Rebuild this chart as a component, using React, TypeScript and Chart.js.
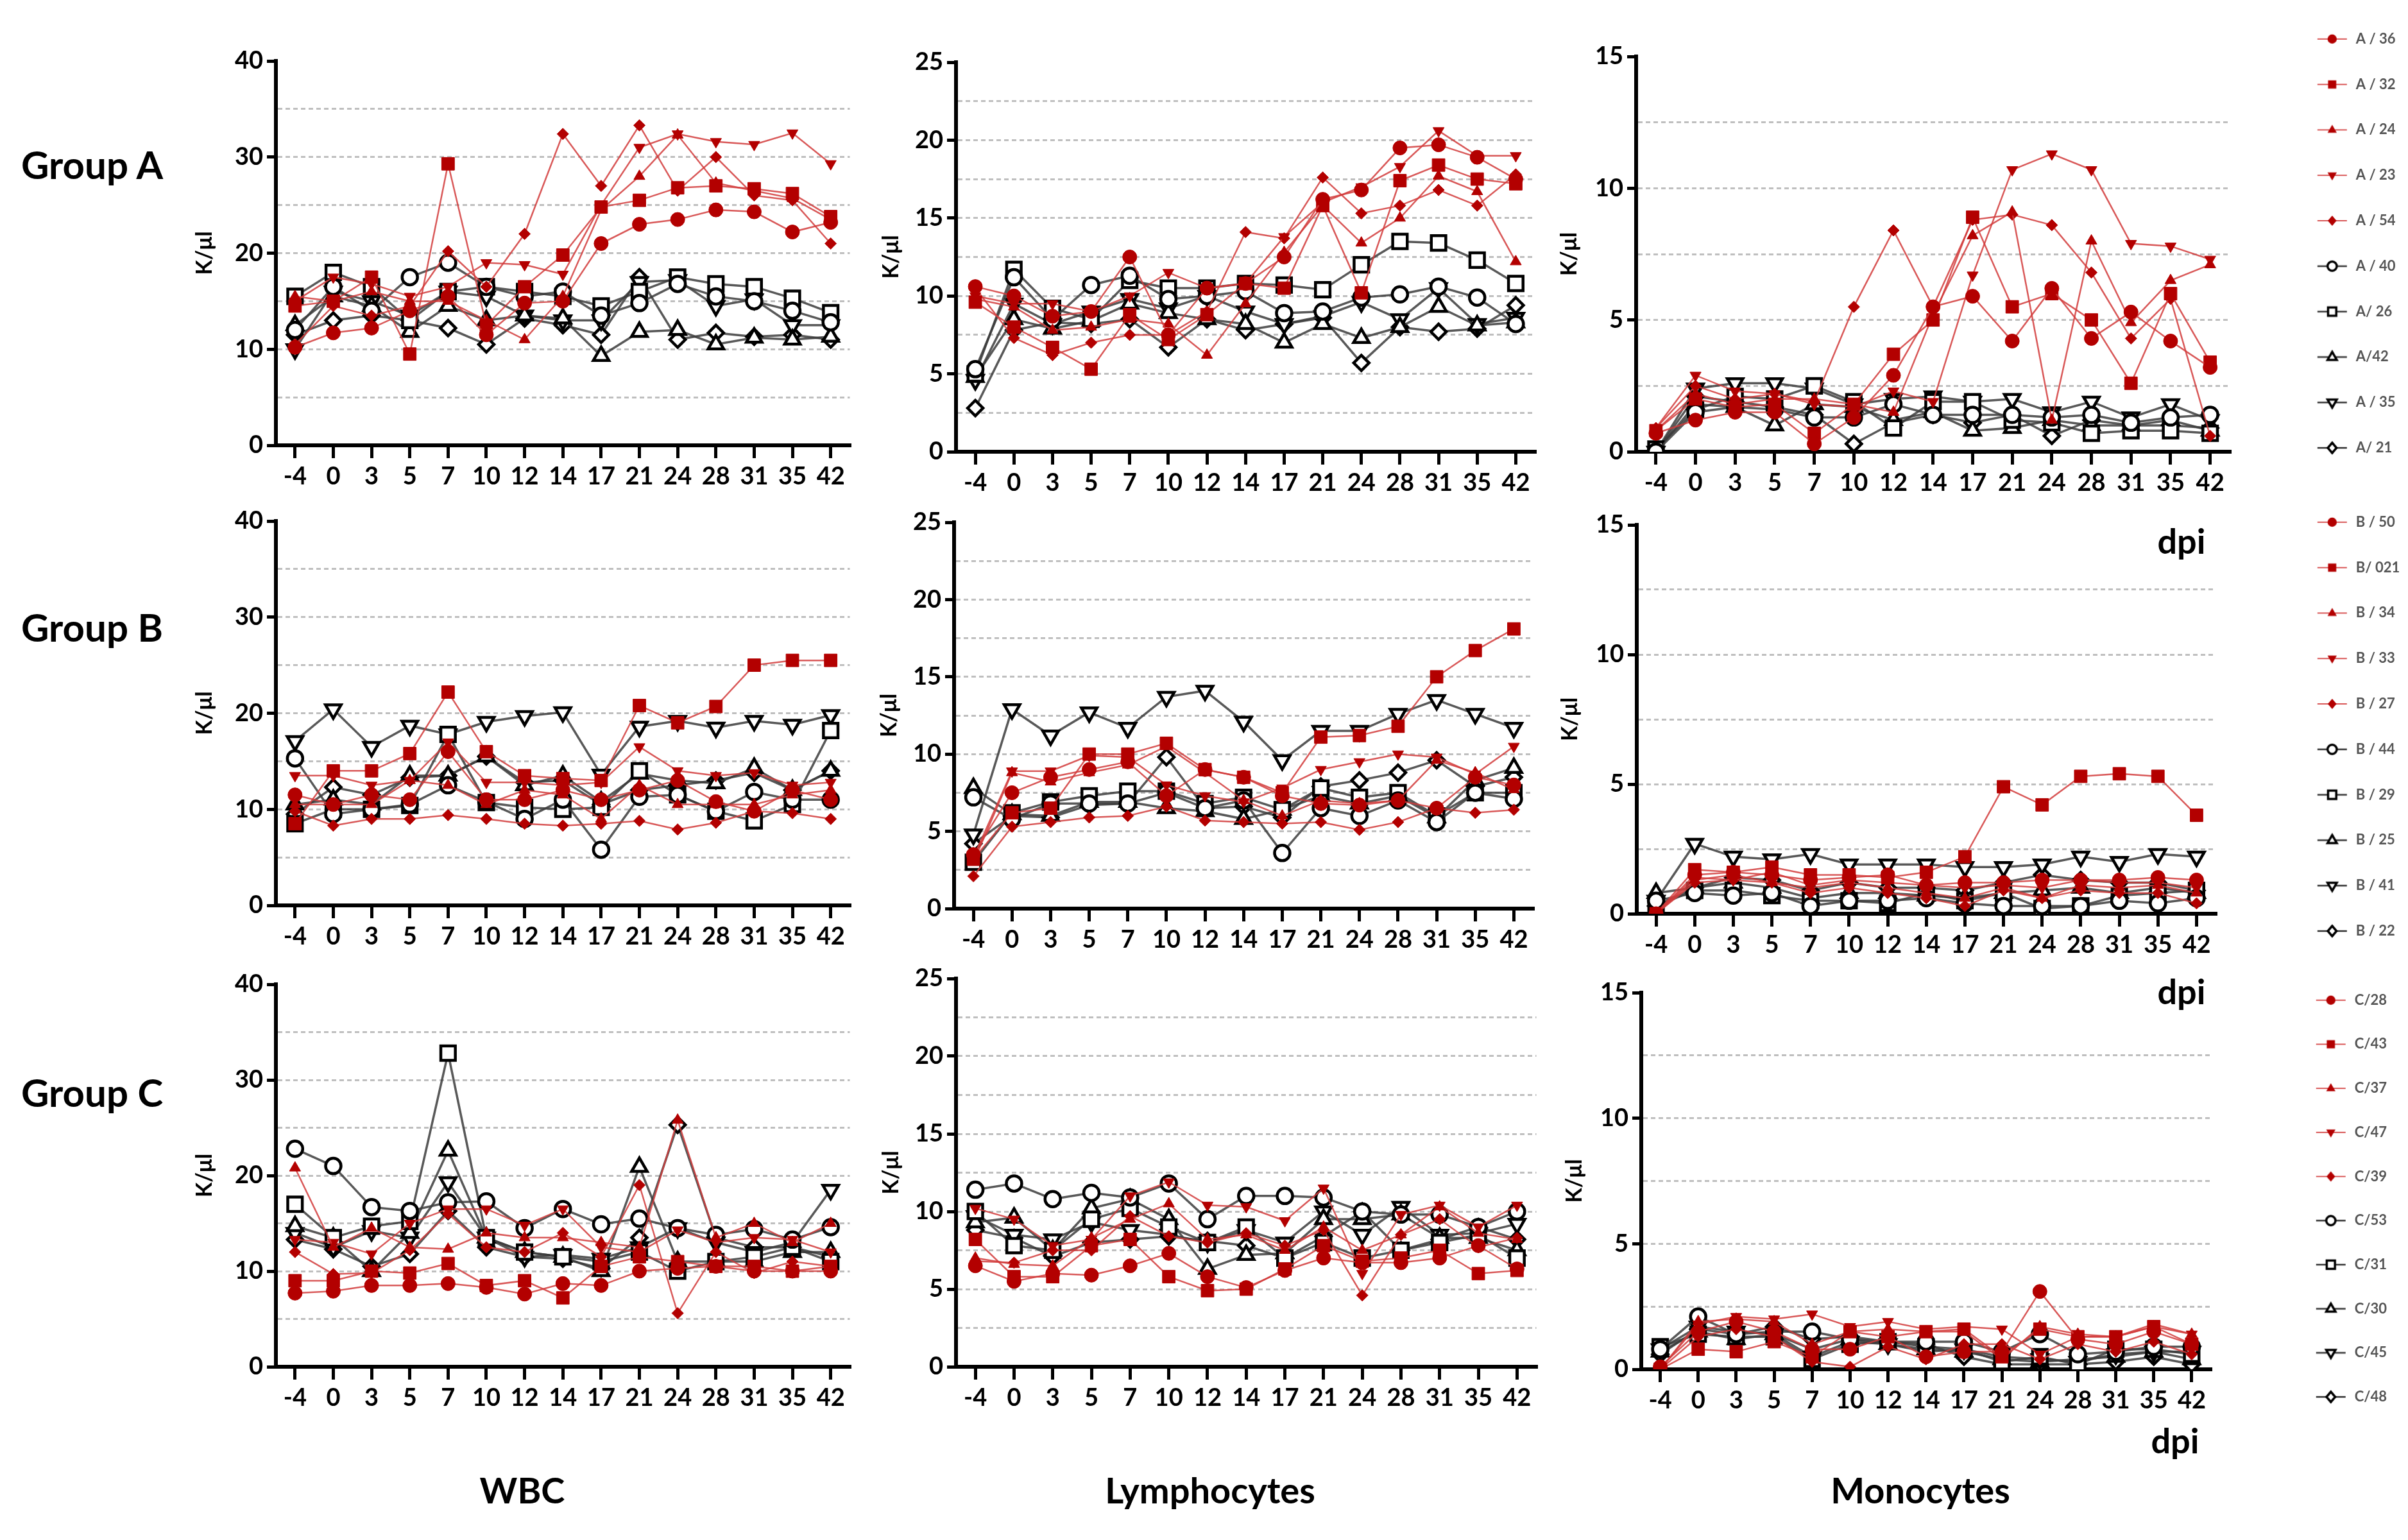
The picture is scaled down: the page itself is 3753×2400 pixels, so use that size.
import React, { useEffect, useRef } from "react";
import { Chart, registerables } from "chart.js";

Chart.register(...registerables);

// ---------------- DATA ----------------
const DPI = ["-4", "0", "3", "5", "7", "10", "12", "14", "17", "21", "24", "28", "31", "35", "42"];

const LABELS_A = ["A / 36", "A / 32", "A / 24", "A / 23", "A / 54", "A / 40", "A/ 26", "A/42", "A / 35", "A/ 21"];
const LABELS_B = ["B / 50", "B/ 021", "B / 34", "B / 33", "B / 27", "B / 44", "B / 29", "B / 25", "B / 41", "B / 22"];
const LABELS_C = ["C/28", "C/43", "C/37", "C/47", "C/39", "C/53", "C/31", "C/30", "C/45", "C/48"];

const WBC_A = [
  [10.2, 11.7, 12.2, 14.0, 15.5, 11.5, 14.8, 15.0, 21.0, 23.0, 23.5, 24.5, 24.3, 22.2, 23.2],
  [14.5, 15.0, 17.5, 9.5, 29.3, 12.5, 16.5, 19.8, 24.8, 25.5, 26.8, 27.0, 26.7, 26.2, 23.8],
  [15.5, 15.0, 16.0, 15.0, 15.0, 13.0, 11.0, 15.5, 24.5, 28.0, 32.3, 27.3, 26.5, 25.7, 23.5],
  [15.0, 17.5, 16.8, 15.5, 16.5, 19.0, 18.8, 17.8, 25.0, 31.0, 32.4, 31.6, 31.3, 32.5, 29.3],
  [10.5, 14.5, 13.5, 14.5, 20.2, 16.5, 22.0, 32.4, 27.0, 33.3, 26.5, 30.0, 26.0, 25.5, 21.0],
  [12.0, 16.5, 14.0, 17.5, 19.0, 16.5, 15.5, 16.0, 13.5, 14.8, 16.8, 15.5, 15.0, 14.0, 12.8],
  [15.5, 18.0, 16.5, 13.0, 16.0, 16.5, 16.0, 15.5, 14.5, 16.0, 17.5, 16.8, 16.5, 15.3, 13.8],
  [12.5, 15.5, 14.5, 11.8, 14.5, 13.0, 13.5, 13.2, 9.3, 11.8, 12.0, 10.5, 11.2, 11.0, 11.3],
  [10.0, 16.0, 15.0, 13.5, 16.0, 15.5, 13.5, 13.0, 13.0, 17.0, 17.2, 14.5, 15.2, 12.5, 12.5],
  [11.5, 13.0, 13.5, 13.0, 12.2, 10.5, 13.2, 12.5, 11.5, 17.5, 11.0, 11.7, 11.3, 11.5, 11.0],
];
const LYM_A = [
  [10.6, 10.0, 8.7, 9.0, 12.5, 7.5, 10.5, 10.8, 12.5, 16.2, 16.8, 19.5, 19.7, 18.9, 17.5],
  [9.6, 8.0, 6.7, 5.3, 8.8, 7.2, 8.8, 10.8, 10.5, 15.8, 10.2, 17.4, 18.4, 17.5, 17.2],
  [9.8, 9.3, 7.8, 8.0, 8.5, 8.2, 6.2, 9.5, 12.8, 15.8, 13.4, 15.0, 17.7, 16.7, 12.2],
  [10.0, 9.5, 9.5, 9.0, 10.0, 11.5, 10.5, 10.8, 13.8, 16.0, 17.0, 18.3, 20.6, 19.0, 19.0],
  [10.5, 7.3, 6.2, 7.0, 7.5, 7.5, 9.0, 14.1, 13.7, 17.6, 15.3, 15.8, 16.8, 15.8, 17.8],
  [5.3, 11.2, 8.5, 10.7, 11.3, 9.8, 10.0, 10.3, 8.9, 9.0, 9.9, 10.1, 10.6, 9.9, 8.2],
  [5.0, 11.7, 9.2, 8.5, 11.0, 10.5, 10.5, 10.8, 10.7, 10.4, 12.0, 13.5, 13.4, 12.3, 10.8],
  [4.8, 8.5, 7.9, 8.4, 9.5, 8.9, 8.5, 8.2, 7.0, 8.2, 7.3, 8.0, 9.3, 8.1, 8.3],
  [4.6, 9.5, 8.2, 9.0, 9.8, 9.2, 10.0, 9.0, 8.2, 8.7, 9.6, 8.5, 10.5, 8.2, 8.6],
  [2.8, 7.8, 8.3, 8.2, 8.5, 6.7, 8.5, 7.8, 8.2, 8.6, 5.7, 8.0, 7.7, 7.9, 9.4],
];
const MONO_A = [
  [0.7, 1.2, 1.5, 1.5, 0.3, 1.3, 2.9, 5.5, 5.9, 4.2, 6.2, 4.3, 5.3, 4.2, 3.2],
  [0.8, 2.0, 1.7, 1.8, 0.7, 1.8, 3.7, 5.0, 8.9, 5.5, 6.0, 5.0, 2.6, 6.0, 3.4],
  [0.8, 2.2, 1.8, 2.0, 2.0, 1.8, 1.5, 5.2, 8.2, 9.1, 1.2, 8.0, 4.9, 6.5, 7.1],
  [0.9, 2.9, 2.3, 2.2, 1.8, 1.7, 2.3, 1.9, 6.7, 10.7, 11.3, 10.7, 7.9, 7.8, 7.3],
  [0.9, 2.5, 2.0, 2.2, 1.9, 5.5, 8.4, 5.5, 8.8, 9.0, 8.6, 6.8, 4.3, 5.8, 0.6],
  [0.0, 1.5, 1.7, 1.6, 1.3, 1.3, 1.8, 1.4, 1.4, 1.4, 1.3, 1.4, 1.1, 1.3, 1.4],
  [0.1, 1.6, 2.1, 2.0, 2.5, 1.9, 0.9, 1.9, 1.9, 1.2, 1.1, 0.7, 0.8, 0.8, 0.7],
  [0.0, 1.8, 1.7, 1.0, 1.8, 1.7, 1.2, 1.5, 0.8, 0.9, 1.2, 1.0, 1.0, 1.2, 0.8],
  [0.0, 2.4, 2.6, 2.6, 2.4, 1.8, 2.0, 2.1, 1.9, 2.0, 1.5, 1.9, 1.3, 1.8, 1.2],
  [0.0, 2.1, 1.9, 1.7, 1.4, 0.3, 1.1, 1.4, 1.1, 1.4, 0.6, 1.2, 1.0, 1.0, 0.9],
];

const WBC_B = [
  [11.5, 10.5, 11.5, 11.0, 16.0, 11.0, 11.0, 12.0, 11.0, 12.0, 13.0, 10.8, 9.8, 12.0, 11.0],
  [8.5, 14.0, 14.0, 15.8, 22.2, 16.0, 13.5, 13.2, 13.0, 20.8, 19.0, 20.7, 25.0, 25.5, 25.5],
  [10.5, 10.5, 10.5, 13.0, 12.5, 10.5, 12.0, 11.5, 9.0, 12.5, 10.5, 10.5, 10.5, 11.5, 12.0],
  [13.5, 13.5, 12.5, 13.0, 17.0, 12.8, 12.8, 12.5, 12.8, 16.5, 14.0, 13.5, 13.8, 12.5, 12.8],
  [9.8, 8.3, 9.0, 9.0, 9.4, 9.0, 8.5, 8.3, 8.5, 8.8, 7.9, 8.6, 9.8, 9.6, 9.0],
  [15.3, 9.5, 10.0, 10.5, 12.5, 10.8, 9.0, 11.0, 5.8, 11.3, 11.5, 9.8, 11.8, 11.0, 11.0],
  [8.5, 10.0, 10.0, 10.4, 17.8, 10.7, 10.2, 10.0, 10.2, 14.0, 11.5, 9.8, 8.8, 10.5, 18.2],
  [10.5, 11.0, 10.5, 13.5, 13.5, 15.5, 12.5, 13.5, 10.8, 13.7, 13.0, 12.7, 14.3, 12.0, 14.0],
  [17.1, 20.4, 16.5, 18.7, 17.8, 19.1, 19.7, 20.1, 13.6, 18.6, 19.2, 18.5, 19.2, 18.8, 19.8],
  [9.5, 12.3, 11.5, 13.3, 13.5, 15.5, 12.8, 13.0, 10.5, 12.0, 12.5, 13.0, 13.8, 12.0, 14.0],
];
const LYM_B = [
  [3.5, 7.5, 8.5, 9.0, 9.5, 7.3, 9.0, 8.5, 7.3, 6.8, 6.7, 7.0, 6.5, 8.5, 8.0],
  [3.2, 6.2, 6.5, 10.0, 10.0, 10.7, 9.0, 8.5, 7.5, 11.1, 11.2, 11.8, 15.0, 16.7, 18.1],
  [3.0, 8.8, 8.2, 8.8, 9.3, 10.5, 8.8, 7.0, 6.0, 7.0, 6.8, 7.0, 9.6, 8.8, 7.7],
  [3.3, 8.9, 8.9, 9.9, 9.8, 8.0, 7.3, 6.9, 7.8, 9.0, 9.5, 10.0, 9.8, 8.7, 10.5],
  [2.1, 5.3, 5.6, 5.9, 6.0, 6.6, 5.7, 5.6, 5.5, 5.6, 5.1, 5.6, 6.5, 6.2, 6.4],
  [7.2, 5.8, 6.8, 6.8, 6.8, 7.5, 6.5, 7.0, 3.6, 6.5, 6.0, 7.0, 5.6, 7.5, 7.1],
  [3.0, 6.2, 6.9, 7.3, 7.6, 7.6, 6.8, 7.2, 6.4, 7.8, 7.2, 7.5, 6.0, 7.5, 7.5],
  [7.8, 6.1, 6.0, 6.9, 6.9, 6.5, 6.3, 5.8, 6.4, 7.3, 6.8, 7.3, 5.9, 8.3, 9.1],
  [4.8, 12.9, 11.2, 12.7, 11.7, 13.7, 14.1, 12.1, 9.6, 11.5, 11.5, 12.6, 13.5, 12.6, 11.7],
  [4.2, 6.0, 5.9, 6.7, 6.8, 9.8, 6.5, 6.6, 5.9, 7.9, 8.3, 8.8, 9.6, 7.9, 8.5],
];
const MONO_B = [
  [0.0, 1.5, 1.6, 1.5, 1.3, 1.4, 1.5, 1.1, 1.2, 1.2, 1.3, 1.3, 1.3, 1.4, 1.3],
  [0.0, 1.7, 1.6, 1.8, 1.5, 1.5, 1.4, 1.6, 2.2, 4.9, 4.2, 5.3, 5.4, 5.3, 3.8],
  [0.0, 1.3, 1.5, 1.2, 1.0, 1.2, 1.0, 0.8, 0.6, 1.0, 0.6, 1.1, 1.0, 1.1, 0.8],
  [0.0, 1.4, 1.3, 1.6, 1.1, 1.3, 1.2, 1.1, 1.0, 1.1, 1.0, 1.3, 1.2, 1.2, 1.0],
  [0.0, 1.2, 1.3, 1.2, 0.8, 1.0, 0.8, 0.6, 0.3, 0.9, 0.6, 0.9, 0.8, 0.8, 0.4],
  [0.5, 0.8, 0.7, 0.8, 0.3, 0.5, 0.5, 0.6, 0.4, 0.3, 0.3, 0.3, 0.5, 0.4, 0.6],
  [0.3, 0.9, 0.9, 0.7, 0.5, 0.5, 0.4, 0.8, 0.5, 0.8, 0.2, 0.3, 0.7, 0.8, 0.9],
  [0.8, 1.0, 1.2, 1.0, 0.6, 0.8, 0.8, 0.7, 0.6, 0.8, 0.9, 1.0, 0.8, 1.0, 0.8],
  [0.5, 2.7, 2.2, 2.1, 2.3, 1.9, 1.9, 1.9, 1.8, 1.8, 1.9, 2.2, 2.0, 2.3, 2.2],
  [0.3, 1.0, 1.4, 1.3, 0.9, 1.2, 1.0, 1.0, 0.9, 1.2, 1.5, 1.3, 1.2, 1.2, 0.9],
];

const WBC_C = [
  [7.7, 7.9, 8.5, 8.5, 8.7, 8.3, 7.6, 8.7, 8.5, 10.0, 10.3, 10.5, 10.0, 10.0, 10.0],
  [9.0, 9.0, 10.0, 9.8, 10.8, 8.5, 9.0, 7.2, 10.5, 11.5, 11.0, 10.5, 10.5, 10.0, 10.5],
  [20.8, 12.5, 14.5, 12.5, 12.3, 14.0, 13.5, 13.5, 13.0, 12.5, 25.8, 13.5, 15.0, 13.0, 15.0],
  [13.3, 13.0, 11.8, 15.0, 16.5, 16.5, 14.8, 16.5, 12.5, 12.0, 14.3, 13.0, 13.5, 13.3, 12.0],
  [12.0, 9.7, 9.8, 12.2, 16.0, 12.5, 12.0, 14.0, 11.5, 19.0, 5.6, 12.0, 9.8, 11.0, 10.5],
  [22.8, 21.0, 16.7, 16.3, 17.2, 17.3, 14.5, 16.5, 14.9, 15.5, 14.5, 13.8, 14.4, 13.3, 14.6],
  [17.0, 13.5, 14.7, 15.2, 32.8, 13.5, 12.0, 11.5, 11.0, 12.0, 10.0, 11.0, 11.5, 12.5, 11.0],
  [14.7, 13.5, 10.0, 14.0, 22.6, 13.5, 12.0, 11.5, 10.0, 20.9, 11.0, 11.0, 11.0, 12.0, 12.0],
  [14.0, 12.5, 14.2, 13.5, 19.3, 13.5, 11.5, 11.7, 11.3, 12.5, 14.5, 13.0, 12.0, 13.0, 18.5],
  [13.3, 12.3, 10.5, 11.8, 16.3, 12.5, 11.5, 11.3, 10.3, 13.5, 25.3, 13.5, 12.5, 12.5, 11.5],
];
const LYM_C = [
  [6.5, 5.5, 6.0, 5.9, 6.5, 7.3, 5.8, 5.1, 6.2, 7.0, 6.7, 6.7, 7.0, 7.8, 6.3],
  [8.2, 5.8, 5.8, 7.8, 8.2, 5.8, 4.9, 5.0, 6.3, 7.8, 6.8, 7.0, 7.5, 6.0, 6.2],
  [7.0, 6.6, 6.5, 8.3, 9.5, 10.5, 8.2, 8.5, 7.5, 9.0, 7.5, 8.5, 10.3, 8.6, 8.2],
  [10.2, 9.5, 7.8, 8.2, 11.0, 11.9, 10.4, 10.3, 9.4, 11.5, 6.0, 9.8, 10.4, 9.0, 10.4],
  [6.8, 6.7, 7.5, 7.5, 9.7, 8.4, 8.0, 8.6, 7.8, 8.8, 4.6, 8.5, 9.5, 7.7, 8.3],
  [11.4, 11.8, 10.8, 11.2, 10.9, 11.8, 9.5, 11.0, 11.0, 10.9, 10.0, 9.8, 9.8, 9.0, 10.0],
  [10.0, 7.8, 7.5, 9.5, 10.2, 9.0, 8.0, 9.0, 7.0, 8.0, 7.0, 7.5, 8.0, 8.5, 7.0],
  [9.3, 9.6, 7.5, 10.2, 10.8, 9.5, 6.3, 7.2, 7.3, 9.5, 9.5, 9.8, 8.3, 8.3, 7.5],
  [9.7, 8.5, 8.2, 9.3, 8.8, 8.5, 8.0, 8.8, 8.0, 10.0, 8.5, 10.3, 8.5, 8.6, 9.2],
  [8.8, 8.3, 7.1, 8.0, 8.2, 8.4, 8.1, 7.8, 7.0, 8.4, 10.0, 7.5, 8.2, 9.0, 8.2],
];
const MONO_C = [
  [0.1, 1.5, 1.9, 1.5, 0.8, 0.8, 1.3, 0.5, 0.7, 0.7, 3.1, 1.2, 1.0, 1.5, 1.0],
  [0.0, 0.8, 0.7, 1.1, 0.5, 1.5, 1.3, 1.5, 1.6, 0.5, 1.6, 1.3, 1.3, 1.7, 1.0],
  [0.0, 1.9, 2.0, 1.9, 1.0, 1.5, 1.6, 1.5, 1.5, 0.4, 1.7, 1.4, 1.3, 1.7, 1.4],
  [0.0, 1.8, 2.1, 2.0, 2.2, 1.7, 1.9, 1.6, 1.7, 1.6, 0.6, 1.3, 1.3, 1.8, 1.4],
  [0.0, 1.3, 1.6, 1.3, 0.3, 0.1, 0.9, 0.4, 1.0, 1.0, 0.4, 1.0, 0.7, 1.1, 0.6],
  [0.8, 2.1, 1.4, 1.5, 1.5, 1.2, 1.1, 1.1, 1.1, 0.7, 1.4, 0.6, 0.7, 0.9, 0.9],
  [0.9, 1.4, 1.3, 1.3, 0.4, 1.0, 1.1, 0.9, 0.8, 0.3, 0.5, 0.2, 0.8, 0.8, 0.6],
  [0.7, 1.5, 1.2, 1.4, 0.8, 1.2, 1.0, 0.8, 0.7, 0.4, 0.3, 0.4, 0.5, 0.7, 0.4],
  [0.8, 1.7, 1.5, 1.4, 0.5, 1.1, 1.0, 0.7, 0.8, 0.5, 0.4, 0.3, 0.6, 0.7, 0.7],
  [0.6, 1.6, 1.4, 1.7, 1.2, 1.3, 1.1, 1.0, 0.5, 0.2, 0.2, 0.2, 0.3, 0.5, 0.2],
];

const GROUP_TITLES = ["Group A", "Group B", "Group C"];
const COLUMN_TITLES = ["WBC", "Lymphocytes", "Monocytes"];
const Y_TITLE = "K/μl";
const X_TITLE = "dpi";

// ---------------- LAYOUT / STYLE ----------------
const FONT = 'Lato, "Open Sans", "DejaVu Sans", sans-serif';
const Y_W = 160;
const PAD_T = 36;
const PAD_R = 20;
const X_H = 82;

const AXES: any = {
  wbc: { max: 40, step: 5, labelStep: 10, titleDist: 111 },
  lym: { max: 25, step: 2.5, labelStep: 5, titleDist: 101 },
  mono: { max: 15, step: 2.5, labelStep: 5, titleDist: 104 },
};

const PANELS: any[] = [
  { kind: "wbc", data: WBC_A, labels: LABELS_A, box: { L: 430, R: 1325, T: 95, B: 694 } },
  { kind: "lym", data: LYM_A, labels: LABELS_A, box: { L: 1490, R: 2393, T: 97, B: 704 } },
  { kind: "mono", data: MONO_A, labels: LABELS_A, box: { L: 2550, R: 3476, T: 88, B: 704 } },
  { kind: "wbc", data: WBC_B, labels: LABELS_B, box: { L: 430, R: 1325, T: 812, B: 1411 } },
  { kind: "lym", data: LYM_B, labels: LABELS_B, box: { L: 1487, R: 2390, T: 814, B: 1416 } },
  { kind: "mono", data: MONO_B, labels: LABELS_B, box: { L: 2551, R: 3454, T: 818, B: 1424 } },
  { kind: "wbc", data: WBC_C, labels: LABELS_C, box: { L: 430, R: 1325, T: 1534, B: 2130 } },
  { kind: "lym", data: LYM_C, labels: LABELS_C, box: { L: 1490, R: 2395, T: 1525, B: 2130 } },
  { kind: "mono", data: MONO_C, labels: LABELS_C, box: { L: 2558, R: 3446, T: 1547, B: 2134 } },
];

const LEGENDS = [
  { labels: LABELS_A, top: 1, pad: 48.8 },
  { labels: LABELS_B, top: 754, pad: 48.8 },
  { labels: LABELS_C, top: 1501, pad: 46.7 },
];
const LEGEND_LEFT = 3560;

const MARKERS = [
  { style: "circle", rot: 0, rRed: 11, rBlack: 12 },
  { style: "rect", rot: 0, rRed: 14, rBlack: 16 },
  { style: "triangle", rot: 0, rRed: 10, rBlack: 14 },
  { style: "triangle", rot: 180, rRed: 10, rBlack: 14 },
  { style: "rectRot", rot: 0, rRed: 9, rBlack: 12 },
];

const RED_LINE = "rgba(210,60,60,0.85)";
const RED_PT = "#b30000";
const BLACK_LINE = "rgba(60,60,60,0.85)";

function makeDataset(i: number, label: string, data: number[]) {
  const red = i < 5;
  const m = MARKERS[i % 5];
  return {
    label,
    data,
    borderColor: red ? RED_LINE : BLACK_LINE,
    borderWidth: red ? 2.5 : 3.5,
    pointStyle: m.style,
    pointRotation: m.rot,
    pointRadius: red ? m.rRed : m.rBlack,
    pointBackgroundColor: red ? RED_PT : "#ffffff",
    pointBorderColor: red ? RED_PT : "#000000",
    pointBorderWidth: red ? 1 : 4.5,
    tension: 0,
    fill: false,
  };
}

function Panel({ p }: { p: any }) {
  const ref = useRef<HTMLCanvasElement>(null);
  const ax = AXES[p.kind];
  const { L, R, T, B } = p.box;
  useEffect(() => {
    const chart = new Chart(ref.current as HTMLCanvasElement, {
      type: "line",
      data: {
        labels: DPI,
        datasets: p.data.map((d: number[], i: number) => makeDataset(i, p.labels[i], d)) as any,
      },
      options: {
        animation: false,
        responsive: true,
        maintainAspectRatio: false,
        layout: { padding: { top: PAD_T, right: PAD_R, left: 0, bottom: 0 } },
        plugins: { legend: { display: false }, tooltip: { enabled: false } },
        scales: {
          x: {
            type: "category",
            offset: true,
            grid: {
              display: true,
              drawOnChartArea: false,
              drawTicks: true,
              tickLength: 20,
              tickWidth: 5,
              tickColor: "#000",
              color: "#000",
              lineWidth: 5,
            },
            border: { display: true, color: "#000", width: 6 },
            ticks: {
              color: "#000",
              autoSkip: false,
              maxRotation: 0,
              padding: 6,
              font: { family: FONT, size: 38, weight: "bold" },
            },
            afterFit: (s: any) => {
              s.height = X_H;
            },
          },
          y: {
            min: 0,
            max: ax.max,
            ticks: {
              stepSize: ax.step,
              color: "#000",
              padding: 6,
              font: { family: FONT, size: 38, weight: "bold" },
              callback: (v: any) => (Number(v) % ax.labelStep === 0 ? String(v) : ""),
            },
            grid: {
              lineWidth: 3,
              color: (c: any) => {
                const v = c.tick ? c.tick.value : null;
                return v === 0 || v === ax.max ? "rgba(0,0,0,0)" : "rgba(170,170,170,0.75)";
              },
              drawTicks: true,
              tickLength: 14,
              tickWidth: 5,
              tickColor: (c: any) =>
                c.tick && c.tick.value % ax.labelStep === 0 ? "#000" : "rgba(0,0,0,0)",
            },
            border: { display: true, color: "#000", width: 6, dash: [7, 5] },
            title: {
              display: true,
              text: Y_TITLE,
              color: "#000",
              font: { family: FONT, size: 34, weight: "bold" },
              padding: { top: Y_W - ax.titleDist - 20.4, bottom: 0 },
            },
            afterFit: (s: any) => {
              s.width = Y_W;
            },
          },
        },
      } as any,
    });
    return () => chart.destroy();
  }, []);
  return (
    <div
      style={{
        position: "absolute",
        left: L - Y_W,
        top: T - PAD_T,
        width: Y_W + (R - L) + PAD_R,
        height: PAD_T + (B - T) + X_H,
      }}
    >
      <canvas ref={ref} />
    </div>
  );
}

function makeIcon(i: number): HTMLCanvasElement {
  const c = document.createElement("canvas");
  c.width = 52;
  c.height = 26;
  const g = c.getContext("2d") as CanvasRenderingContext2D;
  const red = i < 5;
  g.strokeStyle = red ? RED_LINE : "#333";
  g.lineWidth = red ? 2 : 2.5;
  g.beginPath();
  g.moveTo(3, 13);
  g.lineTo(49, 13);
  g.stroke();
  const m = MARKERS[i % 5];
  const x = 26;
  const y = 13;
  const r = 8;
  g.beginPath();
  if (m.style === "circle") {
    g.arc(x, y, r * 0.9, 0, Math.PI * 2);
  } else if (m.style === "rect") {
    const s = r * 0.8;
    g.rect(x - s, y - s, 2 * s, 2 * s);
  } else if (m.style === "triangle" && m.rot === 0) {
    g.moveTo(x, y - r);
    g.lineTo(x + r * 0.9, y + r * 0.55);
    g.lineTo(x - r * 0.9, y + r * 0.55);
    g.closePath();
  } else if (m.style === "triangle") {
    g.moveTo(x, y + r);
    g.lineTo(x + r * 0.9, y - r * 0.55);
    g.lineTo(x - r * 0.9, y - r * 0.55);
    g.closePath();
  } else {
    g.moveTo(x, y - r);
    g.lineTo(x + r * 0.85, y);
    g.lineTo(x, y + r);
    g.lineTo(x - r * 0.85, y);
    g.closePath();
  }
  if (red) {
    g.fillStyle = RED_PT;
    g.fill();
  } else {
    g.fillStyle = "#fff";
    g.fill();
    g.lineWidth = 3.5;
    g.strokeStyle = "#000";
    g.stroke();
  }
  return c;
}

function LegendBox({ lg }: { lg: any }) {
  const ref = useRef<HTMLCanvasElement>(null);
  useEffect(() => {
    const icons = lg.labels.map((_: string, i: number) => makeIcon(i));
    const chart = new Chart(ref.current as HTMLCanvasElement, {
      type: "line",
      data: { labels: [], datasets: [] },
      options: {
        animation: false,
        responsive: true,
        maintainAspectRatio: false,
        layout: { padding: 0 },
        scales: { x: { display: false }, y: { display: false } },
        plugins: {
          tooltip: { enabled: false },
          legend: {
            display: true,
            position: "left",
            align: "start",
            labels: {
              usePointStyle: true,
              pointStyleWidth: 52,
              boxHeight: 22,
              padding: lg.pad,
              color: "#555",
              font: { family: FONT, size: 22, weight: "bold" },
              generateLabels: () =>
                lg.labels.map((t: string, i: number) => ({
                  text: t,
                  pointStyle: icons[i],
                  fillStyle: "#000",
                  strokeStyle: "#000",
                  lineWidth: 0,
                  hidden: false,
                  datasetIndex: i,
                  fontColor: "#555",
                })),
            },
          },
        },
      } as any,
    });
    return () => chart.destroy();
  }, []);
  return (
    <div style={{ position: "absolute", left: LEGEND_LEFT, top: lg.top, width: 600, height: 820 }}>
      <canvas ref={ref} />
    </div>
  );
}

const textStyle = (x: number, y: number, size: number, center: boolean): React.CSSProperties => ({
  position: "absolute",
  left: x,
  top: y,
  transform: center ? "translate(-50%, -50%)" : "translate(0, -50%)",
  fontFamily: FONT,
  fontWeight: 700,
  fontSize: size,
  color: "#000",
  lineHeight: 1,
  whiteSpace: "nowrap",
});

export default function App() {
  const groupY = [256, 977, 1702];
  const colX = [814, 1886, 2993];
  const dpiPos = [
    [3400, 843],
    [3400, 1545],
    [3390, 2245],
  ];
  return (
    <div
      style={{
        position: "fixed",
        left: 0,
        top: 0,
        width: 3753,
        height: 2400,
        background: "#fff",
        overflow: "hidden",
      }}
    >
      {PANELS.map((p, i) => (
        <Panel key={i} p={p} />
      ))}
      {LEGENDS.map((lg, i) => (
        <LegendBox key={"l" + i} lg={lg} />
      ))}
      {GROUP_TITLES.map((t, i) => (
        <div key={"g" + i} style={textStyle(33, groupY[i], 60, false)}>
          {t}
        </div>
      ))}
      {COLUMN_TITLES.map((t, i) => (
        <div key={"c" + i} style={textStyle(colX[i], 2322, 56, true)}>
          {t}
        </div>
      ))}
      {dpiPos.map((d, i) => (
        <div key={"d" + i} style={textStyle(d[0], d[1], 54, true)}>
          {X_TITLE}
        </div>
      ))}
    </div>
  );
}
